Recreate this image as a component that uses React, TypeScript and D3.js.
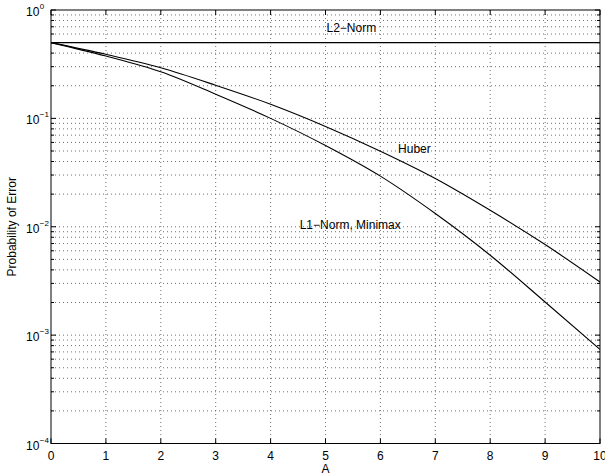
import React from 'react';
import * as d3 from 'd3';

const xValues = [0, 1, 2, 3, 4, 5, 6, 7, 8, 9, 10];
const l2Norm = [0.5, 0.5, 0.5, 0.5, 0.5, 0.5, 0.5, 0.5, 0.5, 0.5, 0.5];
const huber = [0.5, 0.39, 0.293, 0.202, 0.135, 0.0843, 0.0498, 0.0279, 0.0142, 0.00685, 0.00309];
const l1Minimax = [0.5, 0.376, 0.269, 0.167, 0.1, 0.0562, 0.0293, 0.01324, 0.00546, 0.00202, 0.000738];
const xTicks = [0, 1, 2, 3, 4, 5, 6, 7, 8, 9, 10];
const yDecades = [1e-4, 1e-3, 1e-2, 1e-1, 1];
const yExponents = ['\u22124', '\u22123', '\u22122', '\u22121', '0'];
const curveLabels = [
  { text: 'L2\u2212Norm', x: 5.47, y: 0.62 },
  { text: 'Huber', x: 6.62, y: 0.048 },
  { text: 'L1\u2212Norm, Minimax', x: 5.45, y: 0.0095 },
];

const W = 605;
const H = 475;
const M = { left: 51, right: 600, top: 10, bottom: 443.5 };
const FONT = '"Liberation Sans", Arial, Helvetica, sans-serif';

export default function App() {
  const x = d3.scaleLinear().domain([0, 10]).range([M.left, M.right]);
  const y = d3.scaleLog().domain([1e-4, 1]).range([M.bottom, M.top]);

  const minor: number[] = [];
  yDecades.slice(0, -1).forEach((d) => {
    for (let k = 2; k <= 9; k++) minor.push(d * k);
  });
  const allY = [...yDecades, ...minor];

  const line = d3
    .line<[number, number]>()
    .x((d) => x(d[0]))
    .y((d) => y(d[1]))
    .curve(d3.curveMonotoneX);

  const series = [l2Norm, huber, l1Minimax];

  return (
    <svg
      width={W}
      height={H}
      style={{ position: 'absolute', left: 0, top: 0, background: '#fff' }}
      fontFamily={FONT}
    >
      <rect x={0} y={0} width={W} height={H} fill="#fff" />
      {/* grid */}
      <g stroke="#000" strokeWidth={0.8} strokeDasharray="1,3" opacity={0.7}>
        {xTicks.slice(1, -1).map((t) => (
          <line key={'gx' + t} x1={x(t)} x2={x(t)} y1={M.top} y2={M.bottom} />
        ))}
        {allY
          .filter((v) => v > 1e-4 && v < 1)
          .map((v) => (
            <line key={'gy' + v} x1={M.left} x2={M.right} y1={y(v)} y2={y(v)} />
          ))}
      </g>
      {/* curves */}
      <g fill="none" stroke="#000" strokeWidth={1.1}>
        {series.map((s, i) => (
          <path key={i} d={line(xValues.map((xv, j) => [xv, s[j]] as [number, number])) || ''} />
        ))}
      </g>
      {/* frame */}
      <rect
        x={M.left}
        y={M.top}
        width={M.right - M.left}
        height={M.bottom - M.top}
        fill="none"
        stroke="#000"
        strokeWidth={1}
      />
      {/* ticks */}
      <g stroke="#000" strokeWidth={1}>
        {xTicks.map((t) => (
          <g key={'tx' + t}>
            <line x1={x(t)} x2={x(t)} y1={M.bottom} y2={M.bottom - 5} />
            <line x1={x(t)} x2={x(t)} y1={M.top} y2={M.top + 5} />
          </g>
        ))}
        {yDecades.map((v) => (
          <g key={'ty' + v}>
            <line x1={M.left} x2={M.left + 5} y1={y(v)} y2={y(v)} />
            <line x1={M.right} x2={M.right - 5} y1={y(v)} y2={y(v)} />
          </g>
        ))}
        {minor.map((v) => (
          <g key={'tm' + v}>
            <line x1={M.left} x2={M.left + 3} y1={y(v)} y2={y(v)} />
            <line x1={M.right} x2={M.right - 3} y1={y(v)} y2={y(v)} />
          </g>
        ))}
      </g>
      {/* x tick labels */}
      <g fontSize={12} textAnchor="middle" fill="#000">
        {xTicks.map((t) => (
          <text key={'lx' + t} x={x(t)} y={460}>
            {t}
          </text>
        ))}
      </g>
      {/* y tick labels */}
      <g fill="#000">
        {yDecades.map((v, i) => (
          <text key={'ly' + v} x={26} y={y(v) + 6} fontSize={12}>
            10
            <tspan fontSize={8} dy={-7} dx={0.5}>
              {yExponents[i]}
            </tspan>
          </text>
        ))}
      </g>
      {/* axis labels */}
      <text x={(M.left + M.right) / 2} y={473} fontSize={12} textAnchor="middle">
        A
      </text>
      <text
        transform={`translate(16, ${(M.top + M.bottom) / 2}) rotate(-90)`}
        fontSize={12}
        textAnchor="middle"
      >
        Probability of Error
      </text>
      {/* curve labels */}
      {curveLabels.map((c) => (
        <text key={c.text} x={x(c.x)} y={y(c.y)} fontSize={12} textAnchor="middle">
          {c.text}
        </text>
      ))}
    </svg>
  );
}
